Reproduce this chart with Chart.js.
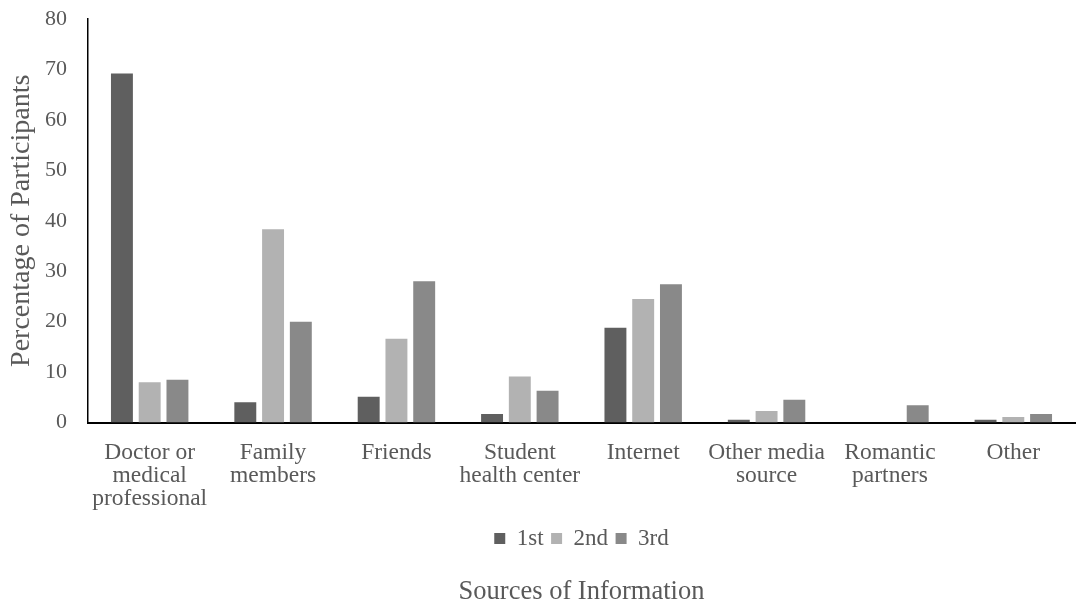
<!DOCTYPE html>
<html>
<head>
<meta charset="utf-8">
<script src="https://cdn.jsdelivr.net/npm/chart.js@4/dist/chart.umd.min.js"></script>
<style>
    html, body { margin: 0; padding: 0; background: #fff; }
    #wrap { width: 1087px; height: 600px; }
</style>
</head>
<body>
<div id="wrap"><canvas id="sourcesChart" width="1087" height="600"></canvas></div>
<script>
const categories = [
    ["Doctor or", "medical", "professional"],
    ["Family", "members"],
    ["Friends"],
    ["Student", "health center"],
    ["Internet"],
    ["Other media", "source"],
    ["Romantic", "partners"],
    ["Other"]
];
const firstValues = [69.2, 4.0, 5.1, 1.7, 18.8, 0.55, 0, 0.55];
const secondValues = [8.0, 38.3, 16.6, 9.1, 24.5, 2.3, 0, 1.1];
const thirdValues = [8.5, 20.0, 28.0, 6.3, 27.4, 4.5, 3.4, 1.7];
const yTicks = [0, 10, 20, 30, 40, 50, 60, 70, 80];

const textColor = '#595959';
const serif = "'Liberation Serif', 'Times New Roman', serif";

function createSourcesChart() {
    const ctx = document.getElementById("sourcesChart").getContext("2d");
    new Chart(ctx, {
        type: 'bar',
        data: {
            labels: categories,
            datasets: [
                { label: '1st', data: firstValues, backgroundColor: '#5f5f5f' },
                { label: '2nd', data: secondValues, backgroundColor: '#b2b2b2' },
                { label: '3rd', data: thirdValues, backgroundColor: '#898989' }
            ]
        },
        options: {
            responsive: false,
            animation: false,
            categoryPercentage: 0.675,
            barPercentage: 0.79,
            layout: { padding: { left: 0, right: 12, top: 0, bottom: 0 } },
            plugins: {
                tooltip: { enabled: false },
                legend: {
                    position: 'bottom',
                    fullSize: false,
                    labels: {
                        color: textColor,
                        font: { family: serif, size: 23 },
                        boxWidth: 11,
                        boxHeight: 11,
                        padding: 7.5
                    }
                },
                title: {
                    display: true,
                    position: 'bottom',
                    fullSize: false,
                    text: 'Sources of Information',
                    color: textColor,
                    font: { family: serif, size: 26.5, weight: 'normal', lineHeight: 0.6 },
                    padding: { top: 24, bottom: 0 }
                }
            },
            scales: {
                x: {
                    grid: { display: false, drawTicks: true, tickLength: 10 },
                    border: { display: true, color: '#000', width: 2 },
                    ticks: {
                        color: textColor,
                        font: { family: serif, size: 23.5, lineHeight: 0.98 },
                        padding: 9,
                        maxRotation: 0,
                        autoSkip: false
                    }
                },
                y: {
                    min: 0,
                    max: 80,
                    grid: { display: false, drawTicks: true, tickLength: 12 },
                    border: { display: true, color: '#000', width: 1.5 },
                    afterBuildTicks: axis => { axis.ticks = yTicks.map(v => ({ value: v })); },
                    ticks: {
                        color: textColor,
                        font: { family: serif, size: 22, lineHeight: 0.91 },
                        padding: 9
                    },
                    title: {
                        display: true,
                        text: 'Percentage of Participants',
                        color: textColor,
                        font: { family: serif, size: 28, lineHeight: 1 },
                        padding: { top: 8, bottom: 0 }
                    }
                }
            }
        }
    });
}

document.addEventListener("DOMContentLoaded", createSourcesChart);
</script>
</body>
</html>
